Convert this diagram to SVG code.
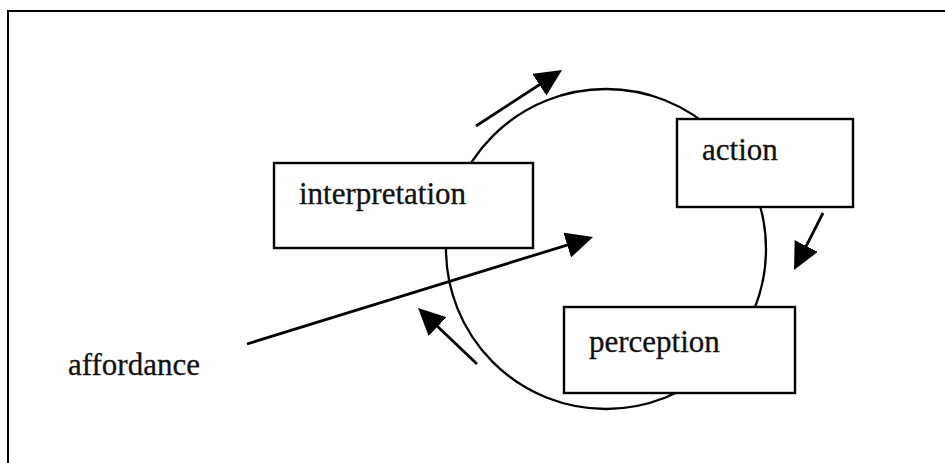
<svg xmlns="http://www.w3.org/2000/svg" width="945" height="463" viewBox="0 0 945 463">
<defs>
<style>
.box{fill:#fff;stroke:#000;stroke-width:2.4}
.lbl{font-family:"Liberation Serif","Times New Roman",serif;font-size:31px;fill:#111;stroke:#111;stroke-width:0.3}
.arr{fill:none;stroke:#000;stroke-width:2.8;marker-end:url(#ah)}
.ring{fill:none;stroke:#000;stroke-width:2.3}
</style>
<marker id="ah" markerUnits="userSpaceOnUse" markerWidth="27" markerHeight="26" refX="16" refY="13" orient="auto">
<path d="M0,0 L27,13 L0,26 Z" fill="#000"/>
</marker>
</defs>
<rect x="8" y="11" width="960" height="470" fill="#fff" stroke="#000" stroke-width="2"/>
<g id="connectors">
<circle class="ring" cx="606" cy="249" r="160"/>
<line class="arr" x1="476" y1="126" x2="552.8" y2="76"/>
<line class="arr" x1="823" y1="213" x2="799" y2="260.2"/>
<line class="arr" x1="477" y1="364" x2="426" y2="315.6"/>
</g>
<g id="interpretation">
<rect class="box" x="274" y="163" width="259" height="85"/>
<text class="lbl" x="299" y="204">interpretation</text>
</g>
<g id="action">
<rect class="box" x="677" y="119" width="176" height="88"/>
<text class="lbl" x="702" y="160">action</text>
</g>
<g id="perception">
<rect class="box" x="564" y="307" width="231" height="86"/>
<text class="lbl" x="589" y="352">perception</text>
</g>
<g id="affordance">
<text class="lbl" x="68" y="375">affordance</text>
</g>
<g id="connectors-affordance">
<line class="arr" x1="247" y1="344" x2="582.5" y2="240.3"/>
</g>
</svg>
